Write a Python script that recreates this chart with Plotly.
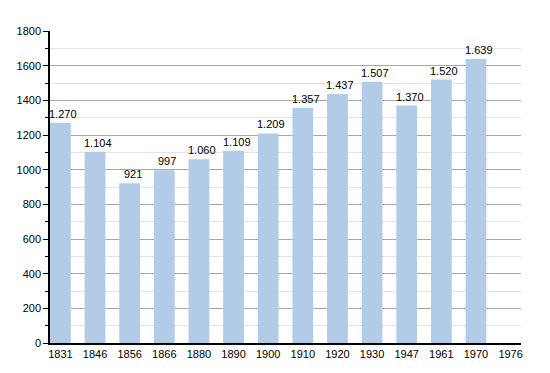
import plotly.graph_objects as go

years = ["1831", "1846", "1856", "1866", "1880", "1890", "1900", "1910", "1920", "1930", "1947", "1961", "1970", "1976"]
population = [1270, 1104, 921, 997, 1060, 1109, 1209, 1357, 1437, 1507, 1370, 1520, 1639, None]
labels = [f"{v:,}".replace(",", ".") if v is not None else "" for v in population]

fig = go.Figure()
fig.add_trace(go.Bar(
    x=list(range(len(years))), y=population,
    marker=dict(color="#b2cbe6", line=dict(width=0)),
    width=0.6,
))
for i, (v, t) in enumerate(zip(population, labels)):
    if v is None:
        continue
    fig.add_annotation(x=i, y=v, text=t, showarrow=False, yanchor="bottom",
                       xanchor="center", xshift=3, yshift=1,
                       font=dict(size=11, color="#000"))
# page body adds an 8px offset; margins compensate so the plot lands where the reference has it
fig.update_layout(
    width=550, height=373,
    margin=dict(l=42, r=37, t=23, b=38),
    plot_bgcolor="white", paper_bgcolor="white",
    font=dict(family="Liberation Sans, Arial, sans-serif", size=11, color="#000"),
    showlegend=False,
    xaxis=dict(
        tickmode="array", tickvals=list(range(len(years))), ticktext=years,
        range=[-0.3, 13.3], showgrid=False, showline=True, linecolor="#000",
        linewidth=1.5, ticks="", zeroline=False, automargin=False,
    ),
    yaxis=dict(
        range=[0, 1800], tickmode="linear", dtick=200, showgrid=True,
        gridcolor="#a8a8a8", gridwidth=1, showline=True, linecolor="#000",
        linewidth=1.5, ticks="outside", ticklen=5, tickcolor="#000",
        zeroline=False, automargin=False,
        minor=dict(dtick=100, showgrid=True, gridcolor="#e4e4e4",
                   ticks="outside", ticklen=3, tickcolor="#000"),
    ),
)
fig.write_html("out.html")
